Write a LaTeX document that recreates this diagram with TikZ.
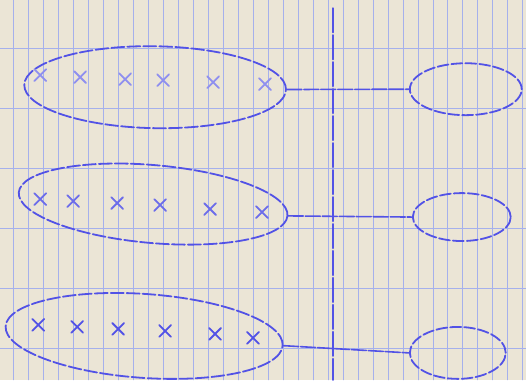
\documentclass[tikz,border=0pt]{standalone}
\usetikzlibrary{shapes.geometric,shapes.misc}
\definecolor{paper}{RGB}{235,229,214}
\definecolor{gridline}{RGB}{165,176,236}
\definecolor{ink}{RGB}{82,82,230}
\begin{document}
\begin{tikzpicture}[x=1pt, y=-1pt, line join=round, line cap=round,
	group/.style={ellipse, draw=ink, line width=1.8, dash pattern=on 13pt off 3pt, inner sep=0pt},
	image/.style={ellipse, draw=ink, line width=1.8, dash pattern=on 11pt off 3pt, inner sep=0pt},
	elem/.style={cross out, draw=ink, line width=1.8, minimum size=10pt, inner sep=0pt},
	link/.style={draw=ink, line width=1.6, dash pattern=on 15pt off 2pt}]
	% paper
	\fill[paper] (0,0) rectangle (526,380);
	\foreach \k in {0,...,34} \draw[color=gridline, line width=0.6] (13+15*\k,0) -- (13+15*\k,380);
	\foreach \y in {48,108,168,228,288,348} \draw[color=gridline, line width=0.6] (0,\y) -- (526,\y);
	% axis
	\coordinate (top) at (333,8);
	\coordinate (bot) at (333,380);
	\draw[ink, line width=2.2, dash pattern=on 24pt off 3pt] (top) -- (bot);
	% groups
	\node[group, rotate=-1, minimum width=262pt, minimum height=82pt] (g1) at (155,87) {};
	\node[group, rotate=-5, minimum width=270pt, minimum height=78pt] (g2) at (153,204) {};
	\node[group, rotate=-4, minimum width=278pt, minimum height=84pt] (g3) at (144,336) {};
	\node[image, minimum width=112pt, minimum height=52pt] (h1) at (466,89) {};
	\node[image, minimum width=98pt, minimum height=48pt] (h2) at (462,217) {};
	\node[image, minimum width=96pt, minimum height=52pt] (h3) at (458,353) {};
	% elements
	\foreach \x/\y [count=\i] in {40/75,80/77,125/79,163/80,213/82,265/84} \node[elem, draw=ink!65] (a\i) at (\x,\y) {};
	\foreach \x/\y [count=\i] in {40/199,73/201,117/203,160/205,210/209,262/212} \node[elem, draw=ink!85] (b\i) at (\x,\y) {};
	\foreach \x/\y [count=\i] in {38/325,77/327,118/329,165/331,215/334,253/338} \node[elem] (c\i) at (\x,\y) {};
	% maps
	\draw[link] (g1.east) -- (h1.west);
	\draw[link] (g2.east) -- (h2.west);
	\draw[link] (g3.east) -- (h3.west);
\end{tikzpicture}
\end{document}
